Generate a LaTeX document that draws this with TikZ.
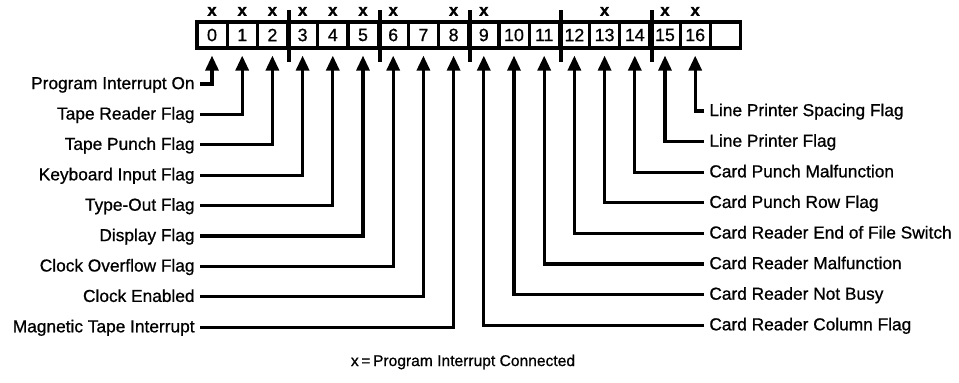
\documentclass[tikz,border=0pt]{standalone}
\usepackage{fontspec}
\setmainfont{Liberation Sans}[FakeBold=1.5]
\newfontfamily\labelfont{Liberation Sans}[FakeBold=0.8]
\usetikzlibrary{arrows.meta}
\usetikzlibrary{positioning}
\tikzset{
cell/.style={draw, line width=1.6pt, rectangle, minimum width=15.1pt, minimum height=13pt, inner sep=0pt,
	font=\labelfont\fontsize{8.9pt}{10pt}\selectfont},
divider/.style={line width=2pt},
xmark/.style={inner sep=0pt, font=\bfseries\fontsize{8.3pt}{10pt}\selectfont},
leftlabel/.style={anchor=east, inner sep=2.5pt, text height=0.72em, text depth=0.21em},
rightlabel/.style={anchor=west, inner sep=2.5pt, text height=0.72em, text depth=0.21em},
flagline/.style={line width=1.6pt, -{Triangle[width=6.5pt,length=7.5pt]}, shorten >=3pt},
}

\begin{document}
\begin{tikzpicture}[x=0.5pt, y=-0.5pt, font=\labelfont\fontsize{8.65pt}{10pt}\selectfont]
\useasboundingbox (0,0) rectangle (959,382);
%Place the register cells
\foreach \i in {0,...,16} {
	\node[cell] (c\i) at ({212+30.2*\i},35) {\i};
}
\node[cell] (c17) at ({212+30.2*17},35) {};

%
\foreach \k in {2,5,8,11,14} {
	\draw[divider] ([yshift=5pt]c\k.north east) -- ([yshift=-6pt]c\k.south east);
}

%
\foreach \k in {0,1,2,3,4,5,6,8,9,13,15,16} {
	\node[xmark] (m\k) at ([yshift=4.5pt]c\k.north) {x};
}

%
\foreach \lbl [count=\i from 0] in {Program Interrupt On, Tape Reader Flag, Tape Punch Flag,
	Keyboard Input Flag, Type-Out Flag, Display Flag, Clock Overflow Flag, Clock Enabled,
	Magnetic Tape Interrupt} {
	\node[leftlabel] (l\i) at (200,{84+30.4*\i}) {\lbl};
	\draw[flagline] (l\i.east) -| (c\i.south);
}

%
\foreach \lbl [count=\k from 0] in {Line Printer Spacing Flag, Line Printer Flag,
	Card Punch Malfunction, Card Punch Row Flag, Card Reader End of File Switch,
	Card Reader Malfunction, Card Reader Not Busy, Card Reader Column Flag} {
	\pgfmathtruncatemacro{\j}{16-\k}%
	\node[rightlabel] (r\j) at (704,{111+30.6*\k}) {\lbl};
	\draw[flagline] (r\j.west) -| (c\j.south);
}

\node[font=\labelfont\fontsize{7.8pt}{9pt}\selectfont] (note) at (463,362) {x\,=\,Program Interrupt Connected};

\end{tikzpicture}
\end{document}
